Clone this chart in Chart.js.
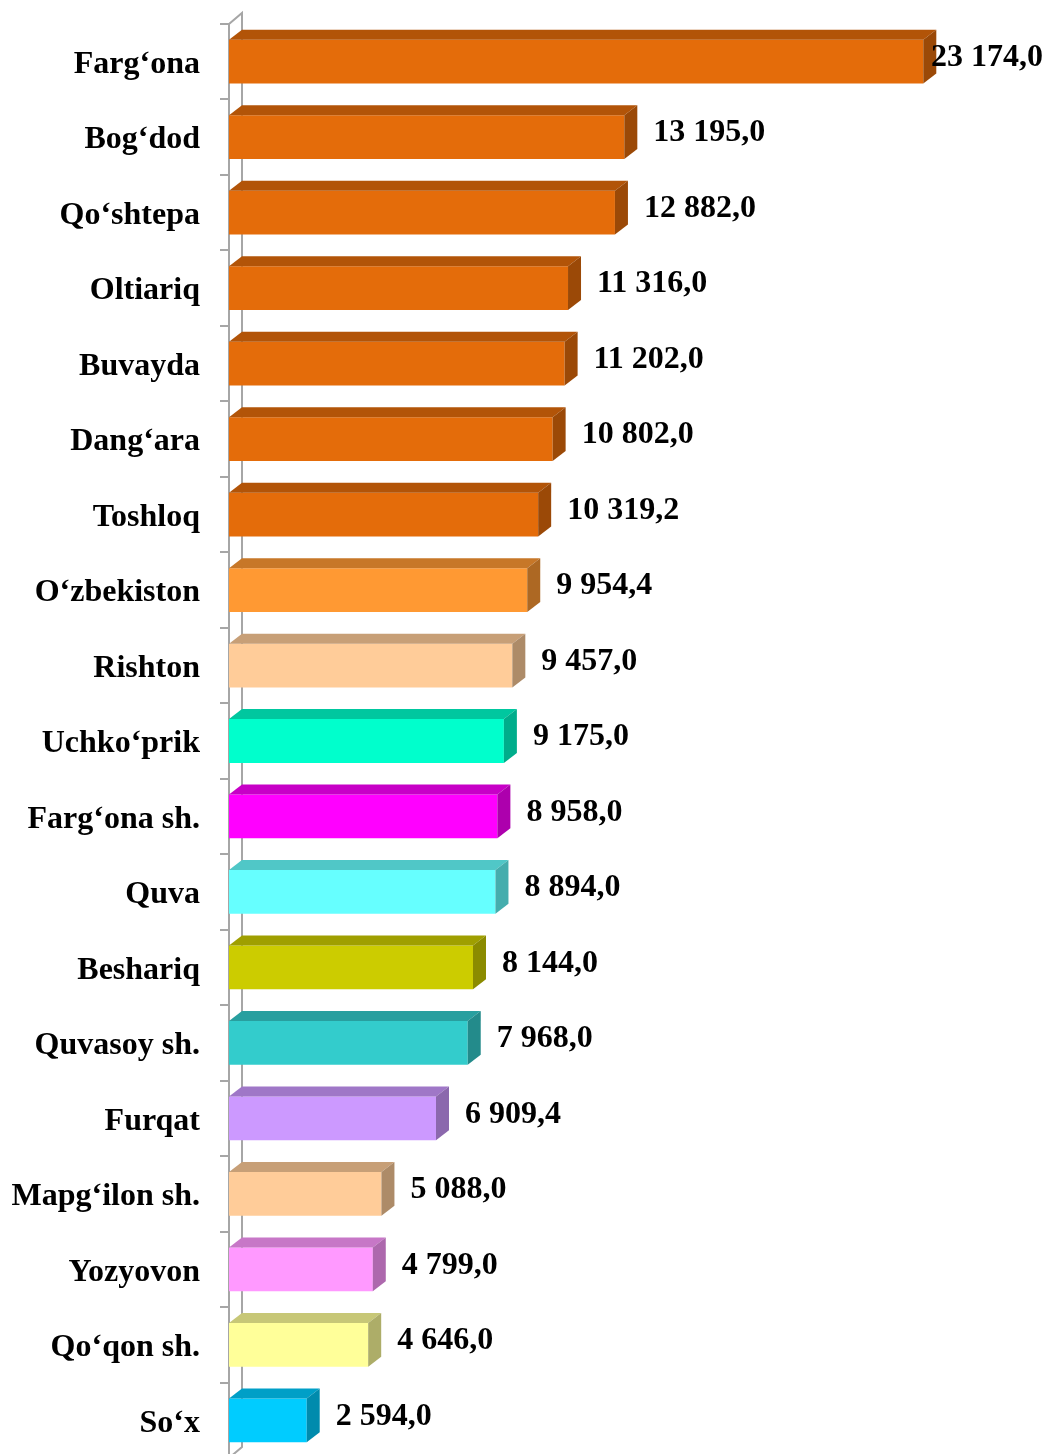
<!DOCTYPE html>
<html>
<head>
<meta charset="utf-8">
<script src="https://cdn.jsdelivr.net/npm/chart.js@4"></script>
<style>
  html, body { margin: 0; padding: 0; background: #fff; overflow: hidden; }
  #wrap { width: 1047px; height: 1460px; }
</style>
</head>
<body>
<div id="wrap"><canvas id="c" width="1047" height="1460"></canvas></div>
<script>
const categories = ["Farg‘ona", "Bog‘dod", "Qo‘shtepa", "Oltiariq", "Buvayda", "Dang‘ara", "Toshloq",
  "O‘zbekiston", "Rishton", "Uchko‘prik", "Farg‘ona sh.", "Quva", "Beshariq", "Quvasoy sh.",
  "Furqat", "Mapg‘ilon sh.", "Yozyovon", "Qo‘qon sh.", "So‘x"];
const values = [23174.0, 13195.0, 12882.0, 11316.0, 11202.0, 10802.0, 10319.2,
  9954.4, 9457.0, 9175.0, 8958.0, 8894.0, 8144.0, 7968.0,
  6909.4, 5088.0, 4799.0, 4646.0, 2594.0];
const barColors = ["#E46C0A", "#E46C0A", "#E46C0A", "#E46C0A", "#E46C0A", "#E46C0A", "#E46C0A",
  "#FF9933", "#FFCC99", "#00FFCC", "#FF00FF", "#66FFFF", "#CCCC00", "#33CCCC",
  "#CC99FF", "#FFCC99", "#FF99FF", "#FFFF99", "#00CCFF"];
const xMin = 0;
const xMax = 25000;

function shade(hex, f) {
  const n = parseInt(hex.slice(1), 16);
  const r = Math.round(((n >> 16) & 255) * f);
  const g = Math.round(((n >> 8) & 255) * f);
  const b = Math.round((n & 255) * f);
  return `rgb(${r},${g},${b})`;
}
function fmt(v) {
  const s = v.toFixed(1).split('.');
  const intPart = s[0].replace(/\B(?=(\d{3})+(?!\d))/g, ' ');
  return intPart + ',' + s[1];
}

const DX = 13, DY = 10;
const AXIS_GRAY = '#A6A6A6';

const threeD = {
  id: 'threeD',
  beforeDatasetsDraw(chart) {
    const ctx = chart.ctx;
    const a = chart.chartArea;
    ctx.save();
    ctx.strokeStyle = AXIS_GRAY;
    ctx.lineWidth = 2;
    ctx.beginPath();
    ctx.moveTo(a.left, a.top);
    ctx.lineTo(a.left + DX, a.top - DY - 1);
    ctx.lineTo(a.left + DX, a.bottom - DY - 1);
    ctx.lineTo(a.left, a.bottom);
    ctx.stroke();
    ctx.restore();
  },
  afterDatasetsDraw(chart) {
    const ctx = chart.ctx;
    const meta = chart.getDatasetMeta(0);
    ctx.save();
    meta.data.forEach((bar, i) => {
      const p = bar.getProps(['x', 'y', 'base', 'height'], true);
      const top = p.y - p.height / 2;
      const bottom = p.y + p.height / 2;
      const c = barColors[i];
      ctx.fillStyle = shade(c, 0.78);
      ctx.beginPath();
      ctx.moveTo(p.base, top);
      ctx.lineTo(p.x, top);
      ctx.lineTo(p.x + DX, top - DY);
      ctx.lineTo(p.base + DX, top - DY);
      ctx.closePath();
      ctx.fill();
      ctx.fillStyle = shade(c, 0.68);
      ctx.beginPath();
      ctx.moveTo(p.x, top);
      ctx.lineTo(p.x + DX, top - DY);
      ctx.lineTo(p.x + DX, bottom - DY);
      ctx.lineTo(p.x, bottom);
      ctx.closePath();
      ctx.fill();
    });
    ctx.font = 'bold 32px "Liberation Serif", "Times New Roman", serif';
    ctx.fillStyle = '#000';
    ctx.textBaseline = 'middle';
    ctx.textAlign = 'left';
    meta.data.forEach((bar, i) => {
      const p = bar.getProps(['x', 'y'], true);
      const txt = fmt(values[i]);
      const w = ctx.measureText(txt).width;
      let x = p.x + DX + 16;
      x = Math.min(x, chart.width - w - 4);
      ctx.fillText(txt, x, p.y - 4);
    });
    ctx.restore();
  }
};

new Chart(document.getElementById('c'), {
  type: 'bar',
  data: {
    labels: categories,
    datasets: [{
      data: values,
      backgroundColor: barColors,
      borderWidth: 0,
      categoryPercentage: 1.0,
      barPercentage: 0.58
    }]
  },
  options: {
    indexAxis: 'y',
    responsive: false,
    animation: false,
    devicePixelRatio: 1,
    layout: { padding: { top: 24, right: 69, bottom: 2, left: 0 } },
    plugins: { legend: { display: false }, tooltip: { enabled: false } },
    scales: {
      x: { display: false, min: xMin, max: xMax },
      y: {
        afterFit(scale) { scale.width = 229; scale.paddingTop = 0; scale.paddingBottom = 0; },
        border: { display: true, color: AXIS_GRAY, width: 2 },
        grid: { display: true, drawOnChartArea: false, drawTicks: true, tickLength: 9, color: AXIS_GRAY, lineWidth: 2, offset: true },
        ticks: {
          color: '#000',
          padding: 20,
          labelOffset: 3,
          font: { family: '"Liberation Serif", "Times New Roman", serif', weight: 'bold', size: 32 }
        }
      }
    }
  },
  plugins: [threeD]
});
</script>
</body>
</html>
